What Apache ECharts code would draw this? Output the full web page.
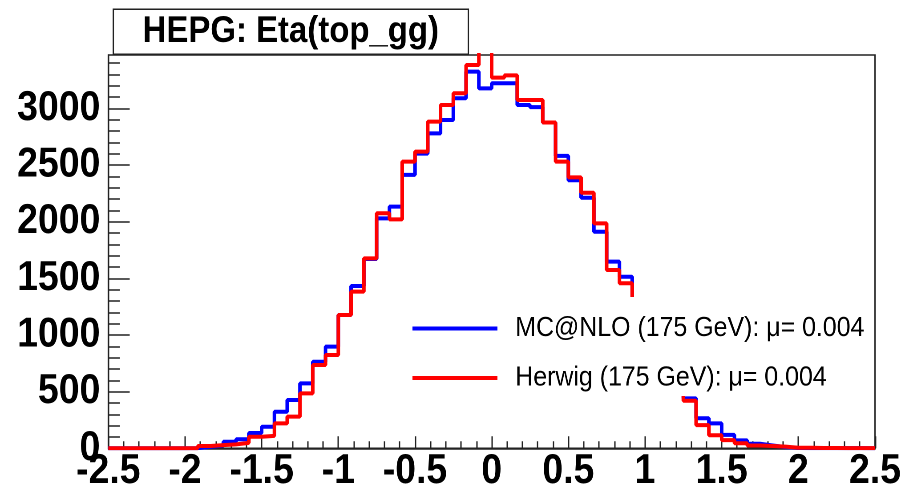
<!DOCTYPE html>
<html><head><meta charset="utf-8">
<script src="https://cdn.jsdelivr.net/npm/echarts@6/dist/echarts.min.js"></script>
<style>
html,body{margin:0;padding:0;background:#fff;overflow:hidden;}
#wrap{width:913px;height:493px;overflow:hidden;}
#chart{width:1026px;height:493px;transform:scaleX(0.889864);transform-origin:0 0;}
</style></head><body><div id="wrap"><div id="chart"></div></div>
<script>
// ---- data ----
const titleText = 'HEPG: Eta(top_gg)';
const seriesNames = ['MC@NLO (175 GeV): \u03bc= 0.004', 'Herwig (175 GeV): \u03bc= 0.004'];
const xRange = [-2.5, 2.5];
const binCount = 60;
const yMax = 3470;
const yTickValues = [0, 500, 1000, 1500, 2000, 2500, 3000];
const yMinorTickValues = [100,200,300,400,600,700,800,900,1100,1200,1300,1400,1600,1700,1800,1900,2100,2200,2300,2400,2600,2700,2800,2900,3100,3200,3300,3400];
const mcnloCounts = [0,0,0,0,0,0,2,12,25,58, 80,135,190,323,426,573,764,897,1176,1432, 1670,2029,2132,2412,2600,2779,2897,3088,3323,3176, 3221,3221,3029,3010,2875,2580,2365,2210,1911,1647, 1514,1300,1050,800,600,440,265,220,118,70, 40,25,10,3,2,2,1,1,1,0];
const herwigCounts = [0,0,0,0,0,0,0,20,28,35, 48,102,110,220,279,485,735,823,1176,1382, 1676,2074,2020,2529,2617,2882,3029,3132,3382,3560, 3270,3290,3073,3073,2875,2529,2390,2255,1985,1573, 1456,1250,1000,760,560,420,205,115,72,45, 25,20,15,5,5,3,3,2,2,1];

function histPoints(counts) {
  const w = (xRange[1] - xRange[0]) / binCount;
  const pts = counts.map((v, k) => [xRange[0] + k * w, v]);
  pts.push([xRange[1], counts[counts.length - 1]]);
  return pts;
}

const FONT = 'Liberation Sans, Arial, Helvetica, sans-serif';
const plain = v => String(Math.round(v * 1000) / 1000);
const chart = echarts.init(document.getElementById('chart'), null, {renderer: 'canvas', devicePixelRatio: 2});
chart.setOption({
  animation: false,
  backgroundColor: '#fff',
  title: {
    text: titleText, left: 126.6, top: 9.3,
    padding: [4, 33.7, 4.7, 33.7],
    borderColor: '#222', borderWidth: 1.5, backgroundColor: '#fff',
    textStyle: {fontFamily: FONT, fontWeight: 'bold', fontSize: 37, color: '#000'}
  },
  grid: {left: 121.7, right: 42.7, top: 55, bottom: 44.7, show: true, borderColor: '#222', borderWidth: 1.5, backgroundColor: 'transparent', containLabel: false, outerBoundsMode: 'none'},
  xAxis: {
    type: 'value', min: xRange[0], max: xRange[1], interval: 0.5,
    axisLine: {show: true, onZero: false, lineStyle: {color: '#222', width: 1.5}},
    axisTick: {show: true, inside: true, length: 12, lineStyle: {color: '#222', width: 1.5}},
    minorTick: {show: true, splitNumber: 5, length: 7, lineStyle: {color: '#222', width: 1.5}},
    splitLine: {show: false}, minorSplitLine: {show: false},
    axisLabel: {show: true, margin: 2, showMinLabel: true, showMaxLabel: true, formatter: plain, fontFamily: FONT, fontWeight: 'bold', fontSize: 42, color: '#000'}
  },
  yAxis: [{
    type: 'value', min: 0, max: yMax, interval: 500,
    axisLine: {show: true, onZero: false, lineStyle: {color: '#222', width: 1.5}},
    axisTick: {show: true, inside: true, length: 24, customValues: yTickValues, lineStyle: {color: '#222', width: 1.5}},
    splitLine: {show: false},
    axisLabel: {show: true, margin: 9, customValues: yTickValues, formatter: plain, fontFamily: FONT, fontWeight: 'bold', fontSize: 42, color: '#000'}
  }, {
    type: 'value', min: 0, max: yMax, position: 'left', offset: 0,
    axisLine: {show: false, onZero: false},
    axisTick: {show: true, inside: true, length: 13, customValues: yMinorTickValues, lineStyle: {color: '#222', width: 1.5}},
    splitLine: {show: false},
    axisLabel: {show: false}
  }],
  legend: {
    data: seriesNames, orient: 'vertical', left: 458.5, top: 309.5,
    itemWidth: 95.5, itemHeight: 4, itemGap: 21.5, icon: 'rect', selectedMode: false, z: 20,
    textStyle: {fontFamily: FONT, fontSize: 28, color: '#000', padding: [0, 0, 0, 15]}
  },
  graphic: [{type: 'rect', z: 10, shape: {x: 443.9, y: 297, width: 537, height: 99}, style: {fill: '#fff'}}],
  series: [{
    name: seriesNames[0], type: 'line', step: 'end', showSymbol: false, symbol: 'none',
    data: histPoints(mcnloCounts), color: '#0000ff',
    lineStyle: {color: '#0000ff', width: 4}, clip: true, z: 2
  }, {
    name: seriesNames[1], type: 'line', step: 'end', showSymbol: false, symbol: 'none',
    data: histPoints(herwigCounts), color: '#ff0000',
    lineStyle: {color: '#ff0000', width: 4}, clip: true, z: 3
  }]
});
</script></body></html>
